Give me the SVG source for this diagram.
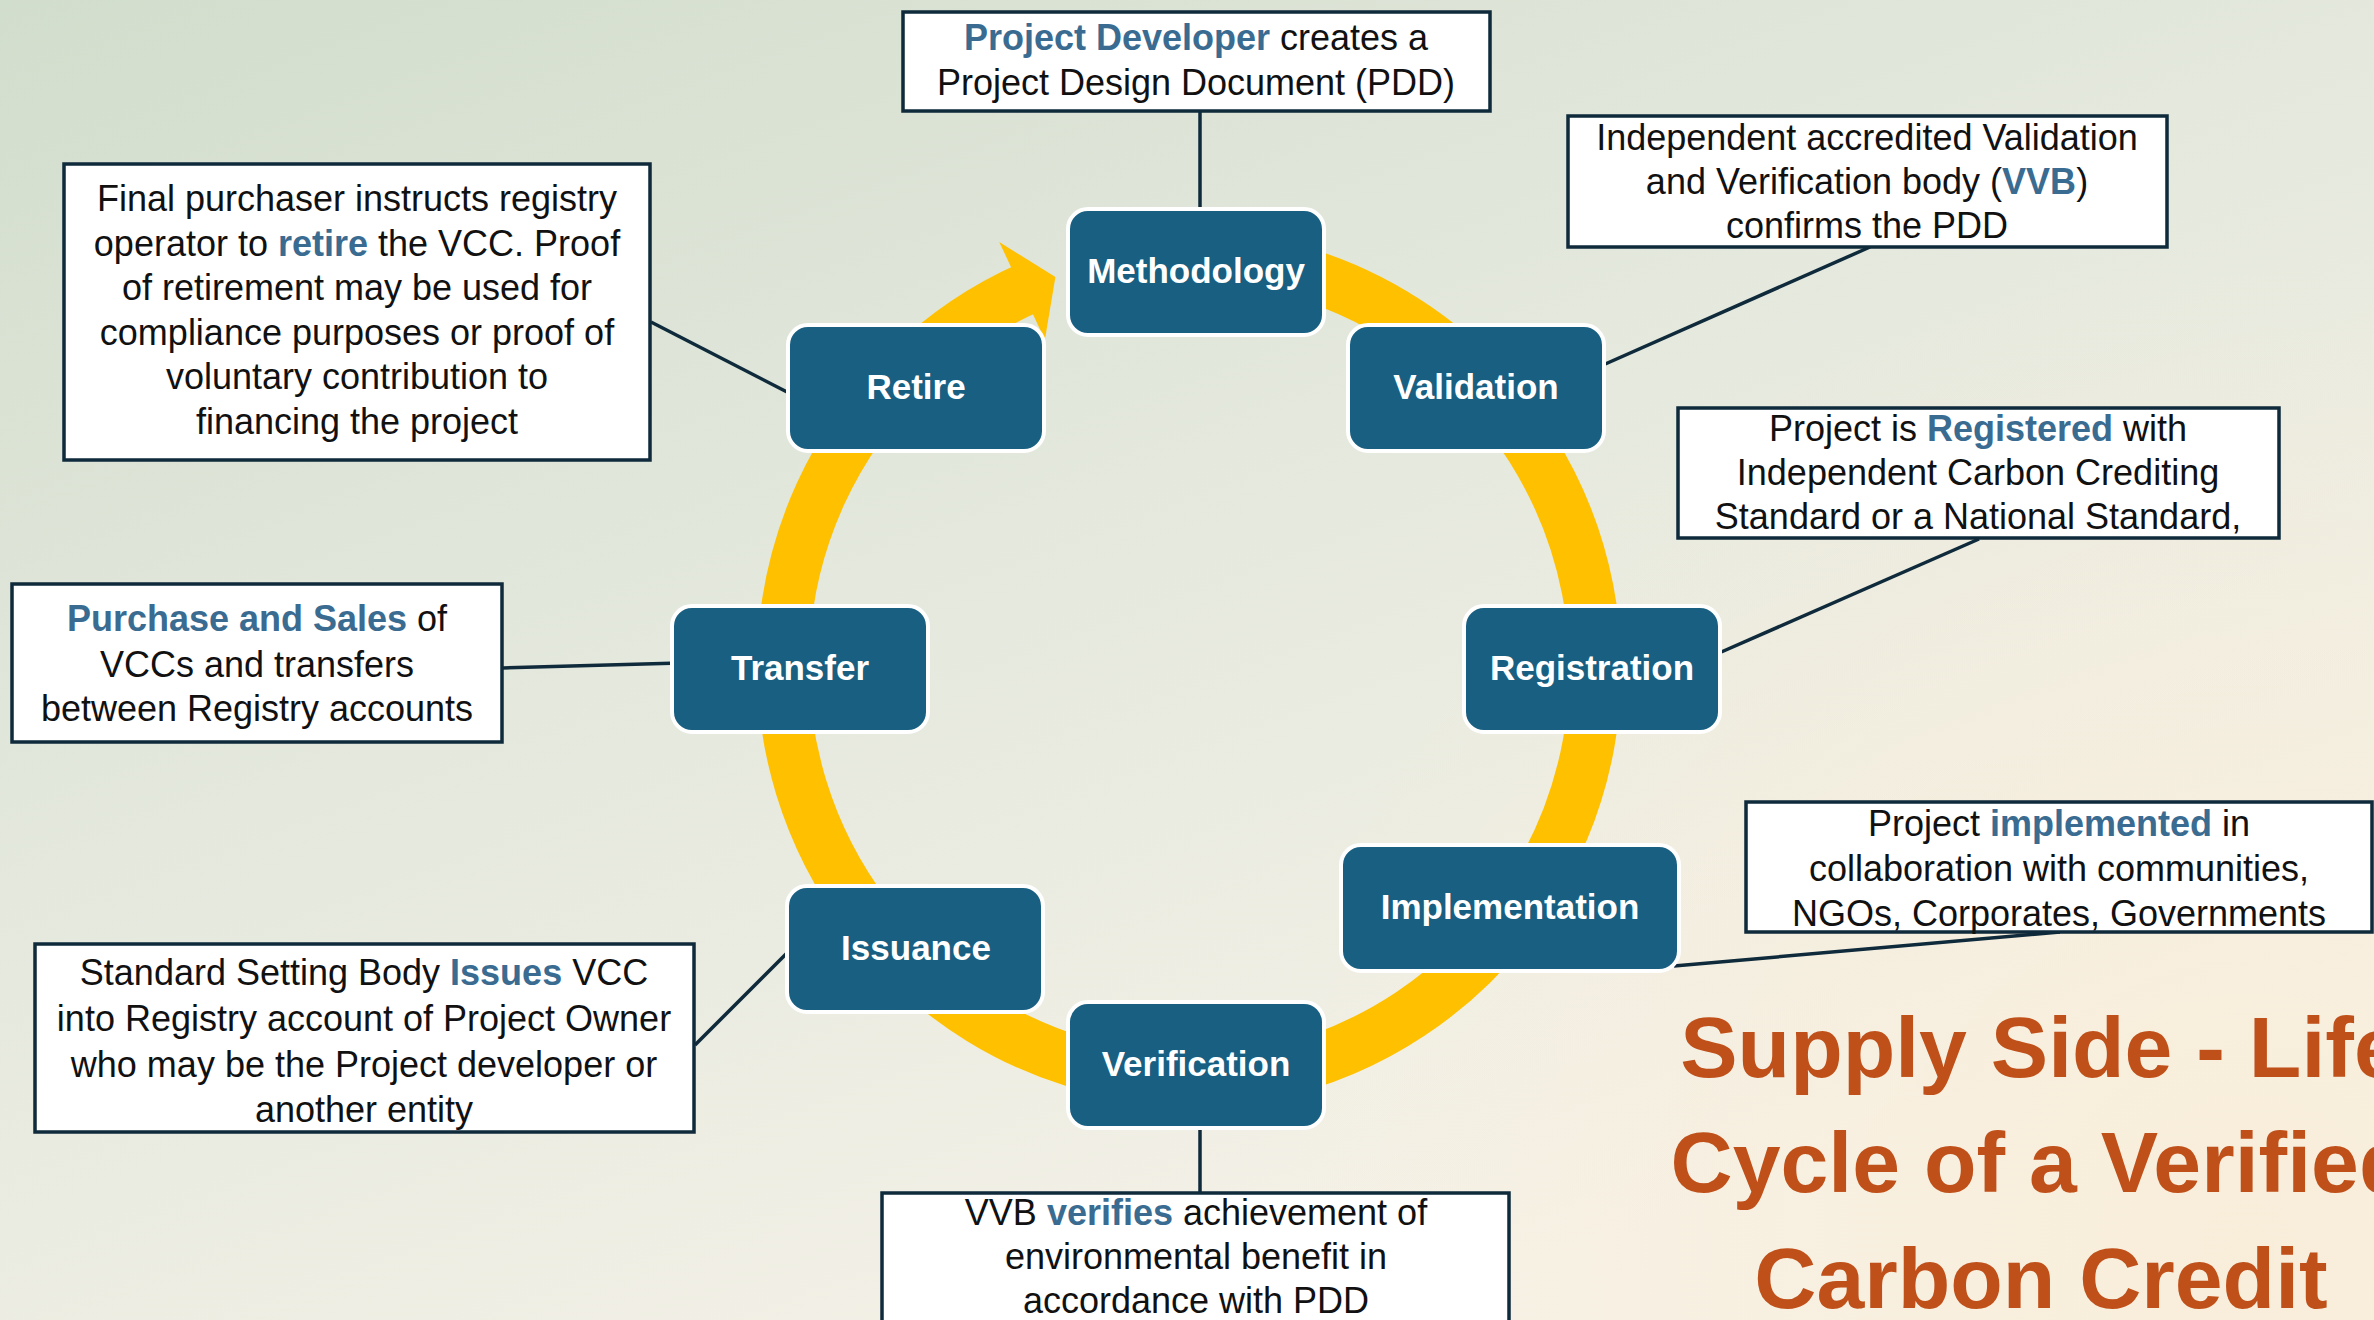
<svg xmlns="http://www.w3.org/2000/svg" width="2374" height="1320" viewBox="0 0 2374 1320">
  <defs>
    <linearGradient id="bgGrad" gradientUnits="userSpaceOnUse" x1="300" y1="-150" x2="900" y2="1500">
      <stop offset="0" stop-color="#D1DDCC"/>
      <stop offset="0.5" stop-color="#E4E8DD"/>
      <stop offset="1" stop-color="#F6F2E8"/>
    </linearGradient>
    <radialGradient id="warm" gradientUnits="userSpaceOnUse" cx="2250" cy="1250" r="1000">
      <stop offset="0" stop-color="#F9EDD8" stop-opacity="0.9"/>
      <stop offset="1" stop-color="#F9EDD8" stop-opacity="0"/>
    </radialGradient>
    <style>
      .node rect { fill: #185F82; stroke: #FFFFFF; stroke-width: 4; }
      .node text { font-family: "Liberation Sans", Arial, sans-serif; font-weight: bold; font-size: 35px; fill: #FFFFFF; text-anchor: middle; }
      .note rect { fill: #FFFFFF; stroke: #0E2A3B; stroke-width: 3.5; }
      .note text { font-family: "Liberation Sans", Arial, sans-serif; font-size: 36px; fill: #111111; text-anchor: middle; }
      .hl { font-weight: bold; fill: #3A6C92; }
      .link { stroke: #0E2A3B; stroke-width: 3.5; fill: none; }
      .ring { stroke: #FFC000; stroke-width: 52; fill: none; }
      .title { font-family: "Liberation Sans", Arial, sans-serif; font-weight: bold; font-size: 86px; fill: #C0501A; text-anchor: middle; }
    </style>
  </defs>

  <!-- background -->
  <rect x="0" y="0" width="2374" height="1320" fill="url(#bgGrad)"/>
  <rect x="0" y="0" width="2374" height="1320" fill="url(#warm)"/>

  <!-- cycle ring with arrowhead into Methodology -->
  <g id="cycle-ring">
    <path class="ring" d="M 1110.9 261.1 A 414 414 0 0 1 1268.9 1073.7 A 414 414 0 0 1 1028.6 287.8"/>
    <polygon fill="#FFC000" points="999.2,241.9 1055.4,277 1044.9,339.7 1033,314.4 1011.1,267.2"/>
  </g>

  <!-- connectors between stages and their notes -->
  <g id="connectors">
    <line class="link" x1="1200" y1="111" x2="1200" y2="208"/>
    <line class="link" x1="1870" y1="247" x2="1603" y2="365"/>
    <line class="link" x1="1979" y1="539" x2="1719" y2="653"/>
    <line class="link" x1="2060" y1="932" x2="1674" y2="966"/>
    <line class="link" x1="1200" y1="1129" x2="1200" y2="1192"/>
    <line class="link" x1="695" y1="1045" x2="791" y2="949"/>
    <line class="link" x1="503" y1="668" x2="680" y2="663"/>
    <line class="link" x1="651" y1="322" x2="789" y2="393"/>
  </g>

  <!-- stage nodes -->
  <g id="node-methodology" class="node">
    <rect x="1068" y="209" width="256" height="126" rx="20"/>
    <text x="1196" y="283">Methodology</text>
  </g>
  <g id="node-validation" class="node">
    <rect x="1348" y="325" width="256" height="126" rx="20"/>
    <text x="1476" y="399">Validation</text>
  </g>
  <g id="node-registration" class="node">
    <rect x="1464" y="606" width="256" height="126" rx="20"/>
    <text x="1592" y="680">Registration</text>
  </g>
  <g id="node-implementation" class="node">
    <rect x="1341" y="845" width="338" height="126" rx="20"/>
    <text x="1510" y="919">Implementation</text>
  </g>
  <g id="node-verification" class="node">
    <rect x="1068" y="1002" width="256" height="126" rx="20"/>
    <text x="1196" y="1076">Verification</text>
  </g>
  <g id="node-issuance" class="node">
    <rect x="787" y="886" width="256" height="126" rx="20"/>
    <text x="916" y="960">Issuance</text>
  </g>
  <g id="node-transfer" class="node">
    <rect x="672" y="606" width="256" height="126" rx="20"/>
    <text x="800" y="680">Transfer</text>
  </g>
  <g id="node-retire" class="node">
    <rect x="788" y="325" width="256" height="126" rx="20"/>
    <text x="916" y="399">Retire</text>
  </g>

  <!-- notes -->
  <g id="note-methodology" class="note">
    <rect x="903" y="12" width="587" height="99"/>
    <text x="1196" y="50"><tspan class="hl">Project Developer</tspan> creates a</text>
    <text x="1196" y="95">Project Design Document (PDD)</text>
  </g>
  <g id="note-validation" class="note">
    <rect x="1568" y="116" width="599" height="131"/>
    <text x="1867" y="150">Independent accredited Validation</text>
    <text x="1867" y="194">and Verification body (<tspan class="hl">VVB</tspan>)</text>
    <text x="1867" y="238">confirms the PDD</text>
  </g>
  <g id="note-registration" class="note">
    <rect x="1678" y="408" width="601" height="130"/>
    <text x="1978" y="441">Project is <tspan class="hl">Registered</tspan> with</text>
    <text x="1978" y="485">Independent Carbon Crediting</text>
    <text x="1978" y="529">Standard or a National Standard,</text>
  </g>
  <g id="note-implementation" class="note">
    <rect x="1746" y="802" width="626" height="130"/>
    <text x="2059" y="836">Project <tspan class="hl">implemented</tspan> in</text>
    <text x="2059" y="881">collaboration with communities,</text>
    <text x="2059" y="926">NGOs, Corporates, Governments</text>
  </g>
  <g id="note-verification" class="note">
    <rect x="882" y="1193" width="627" height="140"/>
    <text x="1196" y="1225">VVB <tspan class="hl">verifies</tspan> achievement of</text>
    <text x="1196" y="1269">environmental benefit in</text>
    <text x="1196" y="1313">accordance with PDD</text>
  </g>
  <g id="note-issuance" class="note">
    <rect x="35" y="944" width="659" height="188"/>
    <text x="364" y="985">Standard Setting Body <tspan class="hl">Issues</tspan> VCC</text>
    <text x="364" y="1031">into Registry account of Project Owner</text>
    <text x="364" y="1077">who may be the Project developer or</text>
    <text x="364" y="1122">another entity</text>
  </g>
  <g id="note-transfer" class="note">
    <rect x="12" y="584" width="490" height="158"/>
    <text x="257" y="631"><tspan class="hl">Purchase and Sales</tspan> of</text>
    <text x="257" y="677">VCCs and transfers</text>
    <text x="257" y="721">between Registry accounts</text>
  </g>
  <g id="note-retire" class="note">
    <rect x="64" y="164" width="586" height="296"/>
    <text x="357" y="211">Final purchaser instructs registry</text>
    <text x="357" y="255.5">operator to <tspan class="hl">retire</tspan> the VCC. Proof</text>
    <text x="357" y="300">of retirement may be used for</text>
    <text x="357" y="344.5">compliance purposes or proof of</text>
    <text x="357" y="389">voluntary contribution to</text>
    <text x="357" y="433.5">financing the project</text>
  </g>

  <!-- title -->
  <g id="title">
    <text class="title" x="2041" y="1077">Supply Side - Life</text>
    <text class="title" x="2041" y="1192">Cycle of a Verified</text>
    <text class="title" x="2041" y="1308">Carbon Credit</text>
  </g>
</svg>
